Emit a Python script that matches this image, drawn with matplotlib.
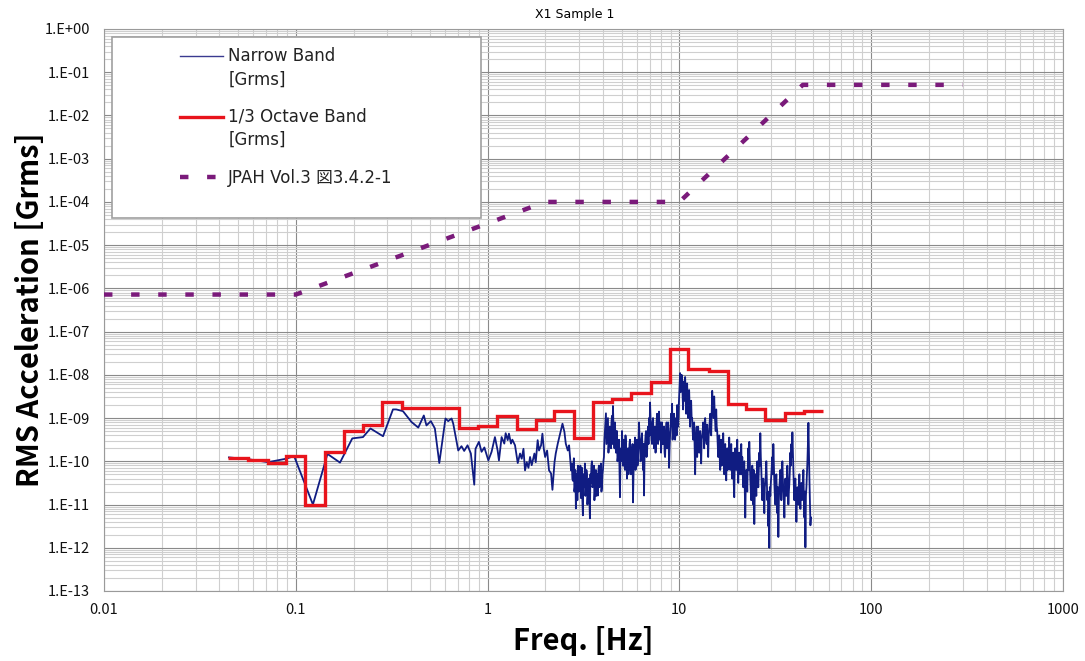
import numpy as np
import matplotlib
matplotlib.use("Agg")
import matplotlib.pyplot as plt
from matplotlib.ticker import LogLocator, FixedLocator, FixedFormatter, NullFormatter
from matplotlib.patches import Rectangle
from matplotlib.legend_handler import HandlerLine2D

plt.rcParams['font.family'] = ['Noto Sans CJK JP', 'DejaVu Sans']

# ---------------- data ----------------
title = "X1 Sample 1"
xlabel = "Freq. [Hz]"
ylabel = "RMS Acceleration [Grms]"
label_nb = "Narrow Band\n[Grms]"
label_oct = "1/3 Octave Band\n[Grms]"
label_req = "JPAH Vol.3 図3.4.2-1"

x_ticks = [0.01, 0.1, 1, 10, 100, 1000]
x_tick_labels = ["0.01", "0.1", "1", "10", "100", "1000"]
y_exponents = list(range(0, -14, -1))
y_tick_labels = ["1.E+00", "1.E-01", "1.E-02", "1.E-03", "1.E-04", "1.E-05", "1.E-06",
                 "1.E-07", "1.E-08", "1.E-09", "1.E-10", "1.E-11", "1.E-12", "1.E-13"]

# JPAH requirement curve (Grms)
req_f = [0.01, 0.1, 2.0, 10.0, 44.0, 300.0]
req_g = [7.2e-7, 7.2e-7, 1.0e-4, 1.0e-4, 5.1e-2, 5.1e-2]

# 1/3 octave band centre frequencies (Hz) and RMS values (Grms)
oct_centers = [0.05, 0.063, 0.08, 0.1, 0.125, 0.16, 0.2, 0.25, 0.315, 0.4, 0.5, 0.63,
               0.8, 1.0, 1.25, 1.6, 2.0, 2.5, 3.15, 4.0, 5.0, 6.3, 8.0, 10.0, 12.5,
               16.0, 20.0, 25.0, 31.5, 40.0, 50.0]
oct_values = [1.2e-10, 1.1e-10, 9.3e-11, 1.35e-10, 1.0e-11, 1.65e-10, 4.9e-10, 7.0e-10,
              2.3e-9, 1.75e-9, 1.7e-9, 1.75e-9, 5.8e-10, 6.5e-10, 1.1e-9, 5.5e-10,
              8.8e-10, 1.45e-9, 3.5e-10, 2.4e-9, 2.7e-9, 3.8e-9, 6.9e-9, 3.9e-8,
              1.4e-8, 1.2e-8, 2.1e-9, 1.65e-9, 8.8e-10, 1.3e-9, 1.45e-9]

# Narrow band spectrum, low-frequency part (Hz, log10 Grms)
nb_low_f = [0.0448, 0.0563, 0.0717, 0.0890, 0.098, 0.1228, 0.1463, 0.170, 0.197, 0.224,
            0.245, 0.285, 0.321, 0.334, 0.362, 0.401, 0.435, 0.465, 0.480, 0.506,
            0.531, 0.560, 0.603, 0.623, 0.649, 0.662, 0.703, 0.731, 0.755, 0.786,
            0.818, 0.852, 0.865, 0.901, 0.930, 0.962, 1.009, 1.049, 1.092, 1.128,
            1.146, 1.183, 1.222, 1.242, 1.273, 1.292, 1.324, 1.346, 1.390, 1.436,
            1.476, 1.506, 1.538, 1.567, 1.600, 1.633, 1.665, 1.698, 1.754, 1.782,
            1.824, 1.854, 1.900, 1.931, 1.963, 1.995, 2.043, 2.091, 2.142, 2.178,
            2.233, 2.266, 2.322, 2.387, 2.457, 2.515, 2.556, 2.618, 2.660, 2.725]
nb_low_logg = [-9.91, -9.95, -10.02, -9.94, -9.88, -11.0, -9.83, -10.03, -9.47, -9.44,
               -9.24, -9.42, -8.80, -8.80, -8.84, -9.09, -9.22, -8.94, -9.17, -9.07,
               -9.24, -10.04, -9.01, -9.07, -9.01, -9.13, -9.75, -9.65, -9.76, -9.63,
               -9.82, -10.54, -9.71, -9.55, -9.78, -9.68, -9.98, -9.78, -9.44, -9.75,
               -9.98, -9.44, -9.59, -9.35, -9.51, -9.36, -9.59, -9.50, -9.63, -10.04,
               -9.82, -9.94, -9.71, -10.21, -10.02, -10.15, -9.90, -10.09, -9.82, -10.02,
               -9.51, -9.75, -9.63, -9.36, -9.71, -9.90, -9.75, -10.21, -10.28, -10.66,
               -10.02, -9.82, -9.59, -9.36, -9.13, -9.32, -9.59, -9.75, -9.63, -10.21]

# Narrow band spectrum, dense part 2.75 .. 48.5 Hz (log10 Grms, log-spaced samples);
# samples alternate between list A and list B
nb_dense_fmin = 2.75
nb_dense_fmax = 48.5
nb_dense_logg_a = [
    -10.05, -10.45, -9.93, -10.6, -11.09, -10.3, -10.1, -10.7, -10.4, -10.85,
    -10.15, -11.25, -10.5, -10.05, -10.6, -10.3, -10.8, -10.4, -11.32, -10.5,
    -10.0, -10.55, -10.1, -10.7, -10.2, -10.5, -10.79, -10.1, -10.45, -10.05,
    -10.6, -10.2,
    -9.9, -9.3, -8.89, -9.4, -9.0, -9.6, -9.2, -9.7, -8.95, -8.72,
    -9.4, -9.1, -9.8, -9.3, -9.9, -9.5, -10.83, -9.7, -9.3, -10.1,
    -9.5, -10.2, -9.6, -10.4, -9.7, -10.0, -9.5, -10.3, -9.8, -10.95,
    -9.9, -9.45, -10.1, -9.5, -9.9, -9.1, -9.6, -9.9, -9.35, -10.2,
    -10.79, -9.6, -9.3, -9.8, -9.2,
    -9.0, -8.64, -9.2, -9.6, -9.0, -9.7, -9.2, -9.5, -8.9, -9.6,
    -8.85, -9.4, -9.8, -9.1, -9.6, -9.2, -9.9, -9.3, -9.7, -9.1,
    -10.15, -9.4, -8.9, -8.67, -9.3, -8.9, -9.5, -9.0, -8.7, -9.2,
    -8.5, -7.96, -8.3, -8.1, -8.8, -8.15, -8.05, -8.9, -8.2, -9.0,
    -8.35, -9.2, -8.6,
    -9.0, -9.5, -9.1, -10.3, -9.4, -9.9, -9.2, -9.8, -9.3, -10.05,
    -9.4, -9.1, -9.7, -9.0, -9.5, -9.15, -9.9, -9.3, -8.9, -9.4,
    -8.37, -8.7, -8.5, -9.1, -8.8,
    -9.3, -9.9, -9.4, -10.2, -9.5, -10.0, -9.35, -10.3, -9.6, -10.44,
    -9.7, -10.1, -9.45, -10.2, -9.6, -10.4, -9.8, -10.83, -9.7, -10.2,
    -9.5, -10.5, -9.8, -10.3, -9.6,
    -9.9, -10.6, -10.0, -11.3, -10.2, -10.7, -9.7, -9.55, -10.4, -10.9,
    -10.1, -11.0, -11.45, -10.3, -10.8, -10.0, -10.6, -9.8, -9.35, -10.2,
    -10.9, -10.4, -11.2, -10.5, -10.0, -10.9, -11.5, -12.0, -10.8, -10.3,
    -9.9, -9.6, -10.5, -11.0, -10.3, -11.2, -11.75, -10.6, -10.2, -10.9,
    -10.0, -10.7, -11.3, -10.4, -10.8, -10.1, -11.0, -10.5, -9.8, -9.6,
    -9.33, -10.2, -10.9, -10.4, -11.4, -10.6, -11.0, -10.3, -11.1, -10.5,
    -10.8, -10.2, -11.3, -11.99, -10.6, -10.0, -9.11, -10.4, -11.48,
]
nb_dense_logg_b = [
    -10.4, -10.1, -10.7, -10.2, -10.5, -10.9, -10.3, -10.5, -10.1, -10.6,
    -10.9, -10.3, -10.6, -10.8, -10.2, -11.0, -10.5, -10.9, -10.3, -10.1,
    -10.6, -10.3, -10.9, -10.4, -10.8, -10.3, -10.2, -10.6, -10.3, -10.7,
    -10.3, -10.0,
    -9.5, -9.1, -9.6, -9.2, -9.8, -9.3, -9.5, -9.1, -9.6, -9.2,
    -9.7, -9.5, -9.3, -10.0, -9.6, -10.2, -9.8, -10.0, -9.6, -9.8,
    -10.1, -9.4, -9.9, -9.8, -10.3, -9.6, -10.1, -9.8, -9.6, -10.3,
    -9.7, -10.2, -9.8, -10.1, -9.6, -9.4, -10.0, -9.5, -9.8, -9.6,
    -9.9, -9.4, -9.9, -9.5, -9.6,
    -9.4, -9.0, -9.5, -9.1, -9.4, -9.3, -9.8, -9.1, -9.4, -9.2,
    -9.5, -9.1, -9.4, -9.6, -9.3, -9.8, -9.5, -9.1, -9.6, -9.4,
    -9.7, -9.2, -9.1, -9.5, -9.0, -9.3, -9.2, -9.4, -9.1, -8.8,
    -8.2, -8.4, -8.0, -8.5, -8.3, -8.6, -8.4, -8.5, -8.7, -8.4,
    -8.8, -8.7, -9.0,
    -9.3, -9.2, -9.7, -9.6, -9.2, -9.5, -9.6, -9.4, -9.7, -9.5,
    -9.3, -9.4, -9.2, -9.3, -9.6, -9.5, -9.4, -9.1, -9.2, -8.9,
    -8.6, -9.0, -8.9, -9.3, -9.2,
    -9.6, -9.7, -9.9, -9.8, -10.1, -9.7, -9.9, -9.8, -10.1, -9.9,
    -10.2, -9.8, -10.0, -9.9, -10.1, -10.2, -10.5, -10.0, -10.1, -9.9,
    -10.2, -10.0, -10.1, -9.9, -10.3,
    -10.3, -10.2, -10.6, -10.5, -10.4, -10.1, -10.2, -10.0, -10.7, -10.4,
    -10.6, -10.2, -10.7, -10.5, -10.3, -10.4, -10.2, -10.1, -9.9, -10.6,
    -10.5, -10.8, -10.6, -10.3, -10.5, -10.7, -11.1, -10.6, -10.5, -10.1,
    -10.3, -10.1, -10.8, -10.5, -10.7, -10.6, -10.9, -10.4, -10.6, -10.3,
    -10.4, -10.9, -10.7, -10.6, -10.4, -10.6, -10.7, -10.2, -10.1, -9.9,
    -9.8, -10.6, -10.5, -10.8, -10.9, -10.7, -10.5, -10.8, -10.6, -10.9,
    -10.5, -10.9, -10.7, -10.8, -10.3, -9.6, -9.8, -10.9, -11.3,
]


class RaisedLine(HandlerLine2D):
    """Legend line handler that places the handle next to the first text line."""
    def __init__(self, raise_pt=0.0, **kw):
        super().__init__(**kw)
        self.raise_pt = raise_pt

    def create_artists(self, legend, orig_handle, xdescent, ydescent, width, height,
                       fontsize, trans):
        return super().create_artists(legend, orig_handle, xdescent,
                                      ydescent - 2 * self.raise_pt, width, height,
                                      fontsize, trans)


# ---------------- figure ----------------
W, H = 1085, 661
fig = plt.figure(figsize=(W / 100, H / 100), dpi=100)
ax = fig.add_axes([104 / W, (H - 591) / H, 959 / W, 562 / H])
ax.set_xscale('log')
ax.set_yscale('log')
ax.set_xlim(0.01, 1000)
ax.set_ylim(1e-13, 1)

dense = np.column_stack([np.array(nb_dense_logg_a), np.array(nb_dense_logg_b)]).ravel()
nb_f = np.concatenate([np.array(nb_low_f),
                       np.geomspace(nb_dense_fmin, nb_dense_fmax, len(dense))])
nb_g = 10.0 ** np.concatenate([np.array(nb_low_logg), dense])

centers = np.array(oct_centers)
edges = np.append(centers * 10 ** -0.05, centers[-1] * 10 ** 0.05)

ax.plot(nb_f, nb_g, color='#101c82', lw=1.3, zorder=3)
ax.stairs(oct_values, edges, color='#e8141c', lw=2.4, zorder=4, baseline=None)
l_oct, = ax.plot([], [], color='#e8141c', lw=2.4, label=label_oct)
l_nb_leg, = ax.plot([], [], color='#3a3a90', lw=1.0, label=label_nb)
l_req, = ax.plot(req_f, req_g, color='#7a1a7a', lw=3.2, linestyle=(0, (1.9, 4.2)),
                 dash_capstyle='butt', zorder=5, label=label_req)

# ticks / grid
ax.xaxis.set_major_locator(FixedLocator(x_ticks))
ax.xaxis.set_major_formatter(FixedFormatter(x_tick_labels))
ax.xaxis.set_minor_locator(LogLocator(base=10, subs=np.arange(2, 10), numticks=100))
ax.xaxis.set_minor_formatter(NullFormatter())
ax.yaxis.set_major_locator(FixedLocator([10.0 ** e for e in y_exponents]))
ax.yaxis.set_major_formatter(FixedFormatter(y_tick_labels))
ax.yaxis.set_minor_locator(LogLocator(base=10, subs=np.arange(2, 10), numticks=100))
ax.yaxis.set_minor_formatter(NullFormatter())
ax.tick_params(which='both', length=0)
ax.tick_params(axis='y', pad=10, labelsize=10.5, labelcolor='#111111')
ax.tick_params(axis='x', pad=9, labelsize=10.5, labelcolor='#111111')
ax.grid(which='major', color='#8a8a8a', lw=0.8, zorder=0)
ax.grid(which='minor', color='#cfcfcf', lw=0.8, zorder=0)
ax.set_axisbelow(True)
for sp in ax.spines.values():
    sp.set_color('#9a9a9a')
    sp.set_linewidth(0.8)

ax.set_title(title, fontsize=9, pad=8, x=(575 - 104) / 959, family=['DejaVu Sans'])
ax.set_xlabel(xlabel, fontsize=21, fontweight='bold')
ax.set_ylabel(ylabel, fontsize=21, fontweight='bold')
ax.xaxis.set_label_coords(0.5, -0.062)
ax.yaxis.set_label_coords(-0.062, 0.5)

# legend box
box = Rectangle(((112 - 104) / 959, 1 - 189 / 562), (481 - 112) / 959, (218 - 37) / 562,
                transform=ax.transAxes, facecolor='white', edgecolor='#a0a0a0', lw=1.2,
                zorder=6)
ax.add_patch(box)
leg = ax.legend(handles=[l_nb_leg, l_oct, l_req], loc='upper left',
                bbox_to_anchor=((180 - 104) / 959, 1 - 18 / 562), frameon=False,
                prop={'family': ['DejaVu Sans', 'Noto Sans CJK JP'], 'size': 12},
                handlelength=2.55, handletextpad=0.35, labelspacing=1.17,
                borderpad=0, borderaxespad=0,
                handler_map={l_nb_leg: RaisedLine(raise_pt=9.4),
                             l_oct: RaisedLine(raise_pt=9.4)})
leg.set_zorder(7)
for t in leg.get_texts():
    t.set_linespacing(1.38)
    t.set_color('#222222')

fig.savefig('out.png', dpi=100, facecolor='white')
